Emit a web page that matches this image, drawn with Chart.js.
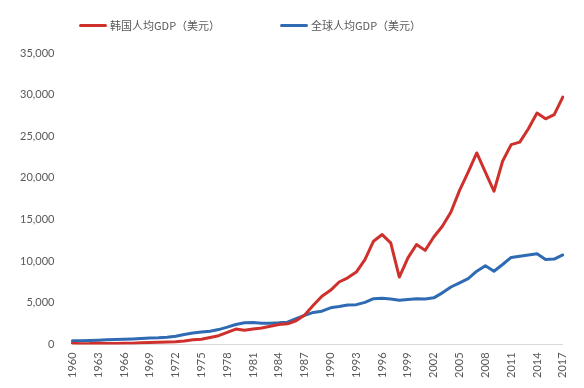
<!DOCTYPE html>
<html>
<head>
<meta charset="utf-8">
<script src="https://cdn.jsdelivr.net/npm/chart.js@4"></script>
<style>
  body { margin: 0; background: #fff; }
  #wrap { position: relative; width: 584px; height: 388px; }
  #legend { position: absolute; top: 16px; left: 0; width: 584px; height: 20px;
    font: 11px "Noto Sans CJK SC", "Noto Sans", sans-serif; color: #595959; }
  .item { position: absolute; top: 0; display: flex; align-items: center; height: 18px; }
  .swatch { width: 28px; height: 3px; border-radius: 2px; margin-right: 3px; }
</style>
</head>
<body>
<div id="wrap">
  <canvas id="chart" width="584" height="388"></canvas>
  <div id="legend"></div>
</div>
<script>
// years 1960-2017
const years = [
  '1960','1961','1962','1963','1964','1965','1966','1967','1968','1969',
  '1970','1971','1972','1973','1974','1975','1976','1977','1978','1979',
  '1980','1981','1982','1983','1984','1985','1986','1987','1988','1989',
  '1990','1991','1992','1993','1994','1995','1996','1997','1998','1999',
  '2000','2001','2002','2003','2004','2005','2006','2007','2008','2009',
  '2010','2011','2012','2013','2014','2015','2016','2017'
];

const koreaGdp = [
  158, 94, 106, 146, 124, 109, 133, 161, 199, 243,
  279, 301, 324, 406, 563, 617, 834, 1055, 1450, 1850,
  1700, 1850, 1990, 2200, 2400, 2480, 2850, 3550, 4700, 5800,
  6500, 7500, 8000, 8700, 10200, 12400, 13200, 12200, 8100, 10400,
  12000, 11300, 12900, 14200, 15900, 18500, 20700, 23000, 20700, 18400,
  22000, 24000, 24300, 25900, 27800, 27100, 27600, 29700
];

const worldGdp = [
  450, 460, 490, 520, 560, 600, 640, 670, 710, 770,
  810, 880, 990, 1200, 1370, 1500, 1600, 1790, 2080, 2400,
  2600, 2630, 2560, 2550, 2600, 2680, 3100, 3500, 3850, 4000,
  4400, 4550, 4750, 4780, 5050, 5500, 5550, 5450, 5300, 5400,
  5500, 5450, 5600, 6200, 6900, 7400, 7900, 8800, 9450, 8800,
  9600, 10450, 10600, 10750, 10900, 10200, 10250, 10750
];

const seriesNames = ['韩国人均GDP（美元）', '全球人均GDP（美元）'];
const seriesColors = ['#CE312C', '#2F6BB3'];

const ctx = document.getElementById('chart').getContext('2d');
const chart = new Chart(ctx, {
  type: 'line',
  data: {
    labels: years,
    datasets: [
      {
        label: seriesNames[0],
        data: koreaGdp,
        borderColor: seriesColors[0],
        backgroundColor: seriesColors[0],
        borderWidth: 3,
        pointRadius: 0,
        tension: 0,
        borderCapStyle: 'round',
        borderJoinStyle: 'round',
      },
      {
        label: seriesNames[1],
        data: worldGdp,
        borderColor: seriesColors[1],
        backgroundColor: seriesColors[1],
        borderWidth: 3,
        pointRadius: 0,
        tension: 0,
        borderCapStyle: 'round',
        borderJoinStyle: 'round',
      },
    ],
  },
  options: {
    responsive: false,
    animation: false,
    layout: { padding: { top: 53, left: 2, right: 21, bottom: 2 } },
    plugins: {
      legend: { display: false },
      tooltip: { enabled: false },
    },
    scales: {
      x: {
        grid: { display: false, drawTicks: false },
        border: { display: true, color: '#D9D9D9', width: 1 },
        ticks: {
          autoSkip: false,
          minRotation: 90,
          maxRotation: 90,
          padding: 8,
          color: '#595959',
          font: { family: 'Lato', size: 11 },
          callback: function (value, index) {
            return index % 3 === 0 ? this.getLabelForValue(value) : '';
          },
        },
      },
      y: {
        min: 0,
        max: 35000,
        grid: { display: false, drawTicks: false },
        border: { display: false },
        ticks: {
          stepSize: 5000,
          padding: 18,
          color: '#595959',
          font: { family: 'Lato', size: 11 },
          callback: v => v.toLocaleString('en-US'),
        },
      },
    },
  },
});

// legend built from the datasets
const legendX = [79, 280];
const legend = document.getElementById('legend');
chart.data.datasets.forEach((ds, i) => {
  const item = document.createElement('div');
  item.className = 'item';
  item.style.left = legendX[i] + 'px';
  const sw = document.createElement('span');
  sw.className = 'swatch';
  sw.style.background = ds.borderColor;
  const txt = document.createElement('span');
  txt.textContent = ds.label;
  item.appendChild(sw);
  item.appendChild(txt);
  legend.appendChild(item);
});
</script>
</body>
</html>
